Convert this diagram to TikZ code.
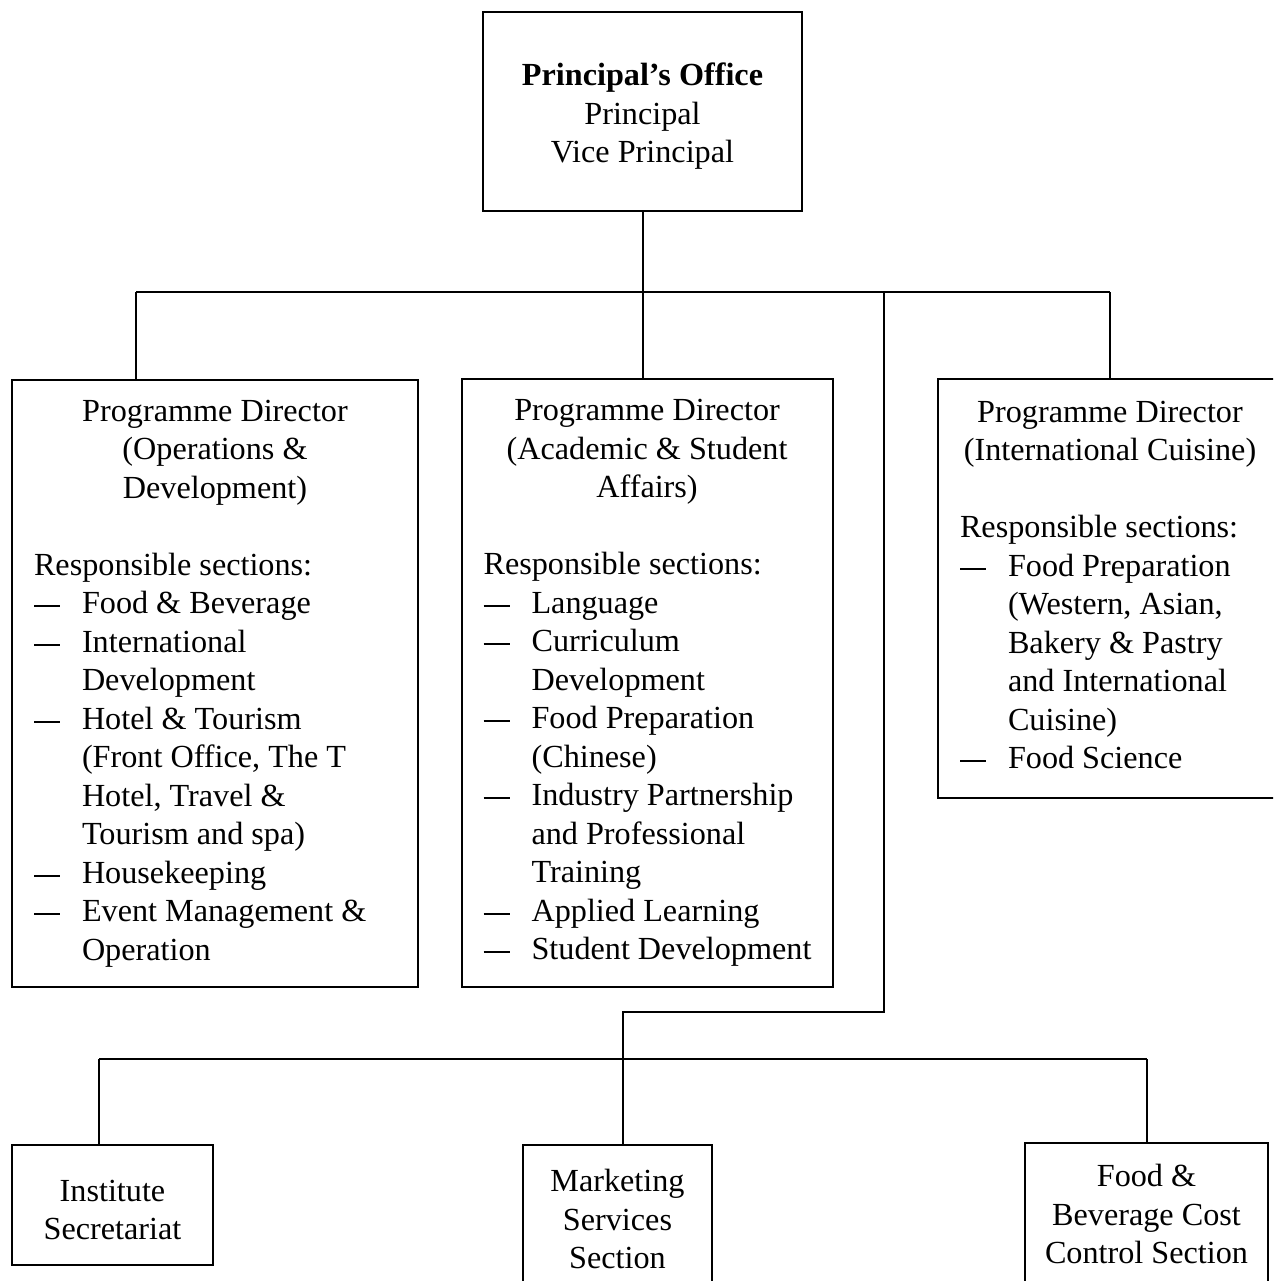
\documentclass[tikz,border=0pt]{standalone}
\usepackage{fontspec}
\setmainfont{Liberation Serif}
\tikzset{
  box/.style={draw, line width=1.8pt, rectangle, inner sep=0pt, align=center},
  conn/.style={line width=1.5pt},
}
\newcommand\fsz{\fontsize{32.2}{38.5}\selectfont}
\newcommand\cl[1]{\hbox to\linewidth{\hss#1\hss}}
\newcommand\lft[1]{\hbox{#1}}
\newcommand\dashg{\rule[6.5pt]{26pt}{1.8pt}}
\newcommand\itm[1]{\hbox{\hbox to 48pt{\dashg\hss}#1}}
\newcommand\cnt[1]{\hbox{\hskip48pt #1}}
\newcommand\gap{\vskip38.5pt}
\begin{document}
\begin{tikzpicture}[x=1pt,y=-1pt]
\useasboundingbox (0,0) rectangle (1273,1281);
\fill[white] (0,0) rectangle (1273,1281);
\clip (0,0) rectangle (1273,1281);

\node[box, minimum width=319pt, minimum height=199pt] (top) at (642.5,111.5)
  {\fsz\begin{minipage}{300pt}\vskip10pt\cl{\bfseries Principal’s Office}\cl{Principal}\cl{Vice Principal}\end{minipage}};

\node[box, minimum width=406pt, minimum height=607pt] (b1) at (215,683.5)
  {\fsz\begin{minipage}{362pt}
   \cl{Programme Director}\cl{(Operations \&}\cl{Development)}\gap
   \lft{Responsible sections:}
   \itm{Food \& Beverage}
   \itm{International}\cnt{Development}
   \itm{Hotel \& Tourism}\cnt{(Front Office, The T}\cnt{Hotel, Travel \&}\cnt{Tourism and spa)}
   \itm{Housekeeping}
   \itm{Event Management \&}\cnt{Operation}
  \end{minipage}};

\node[box, minimum width=371pt, minimum height=608pt] (b2) at (647.5,683)
  {\fsz\begin{minipage}{327pt}
   \cl{Programme Director}\cl{(Academic \& Student}\cl{Affairs)}\gap
   \lft{Responsible sections:}
   \itm{Language}
   \itm{Curriculum}\cnt{Development}
   \itm{Food Preparation}\cnt{(Chinese)}
   \itm{Industry Partnership}\cnt{and Professional}\cnt{Training}
   \itm{Applied Learning}
   \itm{Student Development}
  \end{minipage}};

\node[box, minimum width=344pt, minimum height=419pt] (b3) at (1110,588.5)
  {\fsz\begin{minipage}{300pt}
   \cl{Programme Director}\cl{(International Cuisine)}\gap
   \lft{Responsible sections:}
   \itm{Food Preparation}\cnt{(Western, Asian,}\cnt{Bakery \& Pastry}\cnt{and International}\cnt{Cuisine)}
   \itm{Food Science}\kern7pt
  \end{minipage}};

\node[box, minimum width=201pt, minimum height=120pt] (inst) at (112.5,1205)
  {\fsz\begin{minipage}{180pt}\vskip10pt\cl{Institute}\cl{Secretariat}\end{minipage}};
\node[box, minimum width=189pt, minimum height=148pt] (mkt) at (617.5,1219)
  {\fsz\begin{minipage}{170pt}\cl{Marketing}\cl{Services}\cl{Section}\end{minipage}};
\node[box, minimum width=243pt, minimum height=142pt] (fbc) at (1146.5,1214)
  {\fsz\begin{minipage}{220pt}\cl{Food \&}\cl{Beverage Cost}\cl{Control Section}\end{minipage}};

\coordinate (tv) at (643,292);
\coordinate (busL) at (136,292);
\coordinate (busR) at (1110,292);
\coordinate (j1) at (884,292);
\coordinate (j2) at (884,1012);
\coordinate (j3) at (623,1012);
\coordinate (bl) at (99,1059);
\coordinate (br) at (1147,1059);

\draw[conn] (tv |- top.south) -- (tv |- b2.north);
\draw[conn] (busL) -- (busR);
\draw[conn] (busL) -- (busL |- b1.north);
\draw[conn] (busR) -- (b3.north);
\draw[conn] (j1) -- (j2) -- (j3) -- (j3 |- mkt.north);
\draw[conn] (bl) -- (br);
\draw[conn] (bl) -- (bl |- inst.north);
\draw[conn] (br) -- (br |- fbc.north);
\end{tikzpicture}
\end{document}
